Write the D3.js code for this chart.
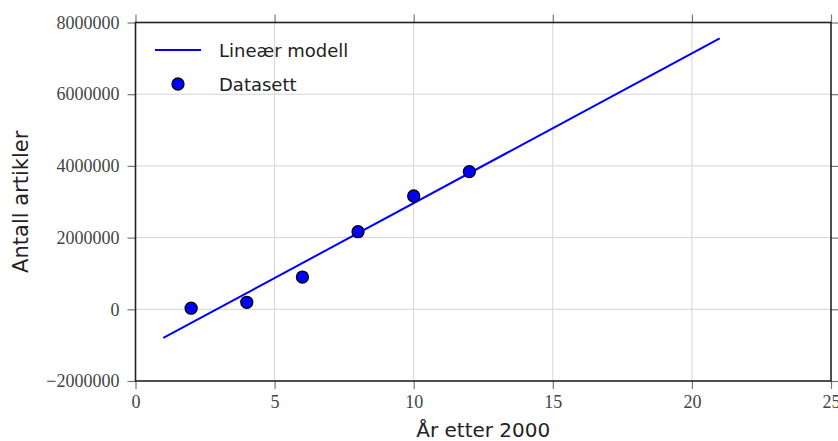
<!DOCTYPE html>
<html lang="no">
<head>
	<meta charset="UTF-8">
	<title>Antall artikler</title>
	<script src="https://d3js.org/d3.v7.min.js"></script>
	<style>
		body { margin: 0; background: #fff; }
		.tick text { font-family: "Liberation Serif", "DejaVu Serif", serif; font-size: 18px; fill: #444; }
		.lbl { font-family: "DejaVu Sans", sans-serif; font-size: 18px; fill: #222; }
	</style>
</head>
<body>
	<div id="main"></div>
</body>
<script>
	// datasett (år etter 2000, antall artikler)
	var years = [2, 4, 6, 8, 10, 12];
	var articles = [30000, 195000, 900000, 2165000, 3160000, 3840000];

	// lineær modell, endepunkter lest fra figuren
	var modelYears = [1, 21];
	var modelValues = [-800000, 7560000];

	var xTicks = [0, 5, 10, 15, 20, 25];
	var yTicks = [-2000000, 0, 2000000, 4000000, 6000000, 8000000];

	var width = 838, height = 441;
	var margin = {left: 135.5, right: 7, top: 22.5, bottom: 60};

	var svg = d3.select("#main")
		.append("svg")
		.attr("width", width)
		.attr("height", height);

	var x = d3.scaleLinear().domain([0, 25]).range([margin.left, width - margin.right]);
	var y = d3.scaleLinear().domain([-2000000, 8000000]).range([height - margin.bottom, margin.top]);

	//grid
	svg.append("g").selectAll("line").data(xTicks.slice(1, -1)).enter().append("line")
		.attr("x1", d => x(d)).attr("x2", d => x(d))
		.attr("y1", y(8000000)).attr("y2", y(-2000000))
		.attr("stroke", "#d4d4d4").attr("stroke-width", 1);
	svg.append("g").selectAll("line").data(yTicks.slice(1, -1)).enter().append("line")
		.attr("y1", d => y(d)).attr("y2", d => y(d))
		.attr("x1", x(0)).attr("x2", x(25))
		.attr("stroke", "#d4d4d4").attr("stroke-width", 1);

	var fmt = function(d){ return d < 0 ? "\u2212" + Math.abs(d) : String(d); };

	var axBottom = svg.append("g").attr("transform", "translate(0," + y(-2000000) + ")")
		.call(d3.axisBottom(x).tickValues(xTicks).tickSize(8).tickPadding(6));
	var axTop = svg.append("g").attr("transform", "translate(0," + y(8000000) + ")")
		.call(d3.axisTop(x).tickValues(xTicks).tickSize(8).tickFormat(""));
	var axLeft = svg.append("g").attr("transform", "translate(" + x(0) + ",0)")
		.call(d3.axisLeft(y).tickValues(yTicks).tickSize(8).tickPadding(8).tickFormat(fmt));
	var axRight = svg.append("g").attr("transform", "translate(" + x(25) + ",0)")
		.call(d3.axisRight(y).tickValues(yTicks).tickSize(8).tickFormat(""));

	[axBottom, axTop, axLeft, axRight].forEach(function(g){
		g.select(".domain").remove();
		g.selectAll(".tick line").attr("stroke", "#777").attr("stroke-width", 1.2);
	});

	// spines
	svg.append("rect")
		.attr("x", x(0)).attr("y", y(8000000))
		.attr("width", x(25) - x(0)).attr("height", y(-2000000) - y(8000000))
		.attr("fill", "none").attr("stroke", "#222").attr("stroke-width", 1.6);

	// model line
	var line = d3.line().x(d => x(d[0])).y(d => y(d[1]));
	svg.append("path")
		.datum(modelYears.map((v, i) => [v, modelValues[i]]))
		.attr("d", line)
		.attr("fill", "none").attr("stroke", "#0000ff").attr("stroke-width", 2);

	// data points
	svg.append("g").selectAll("circle").data(years).enter().append("circle")
		.attr("cx", d => x(d))
		.attr("cy", (d, i) => y(articles[i]))
		.attr("r", 6)
		.attr("fill", "#0000ff").attr("stroke", "#000").attr("stroke-width", 1.3);

	// legend
	var leg = svg.append("g");
	leg.append("line").attr("x1", 155).attr("x2", 201).attr("y1", 50).attr("y2", 50)
		.attr("stroke", "#0000ff").attr("stroke-width", 2);
	leg.append("text").attr("class", "lbl").attr("x", 219).attr("y", 57).text("Lineær modell");
	leg.append("circle").attr("cx", 178).attr("cy", 84).attr("r", 6)
		.attr("fill", "#0000ff").attr("stroke", "#000").attr("stroke-width", 1.3);
	leg.append("text").attr("class", "lbl").attr("x", 219).attr("y", 91).text("Datasett");

	// axis labels
	svg.append("text").attr("class", "lbl").attr("text-anchor", "middle")
		.style("font-size", "20px")
		.attr("x", (x(0) + x(25)) / 2).attr("y", 437).text("År etter 2000");
	svg.append("text").attr("class", "lbl").attr("text-anchor", "middle")
		.style("font-size", "21px")
		.attr("transform", "translate(28," + (y(-2000000) + y(8000000)) / 2 + ") rotate(-90)")
		.text("Antall artikler");
</script>
</html>
